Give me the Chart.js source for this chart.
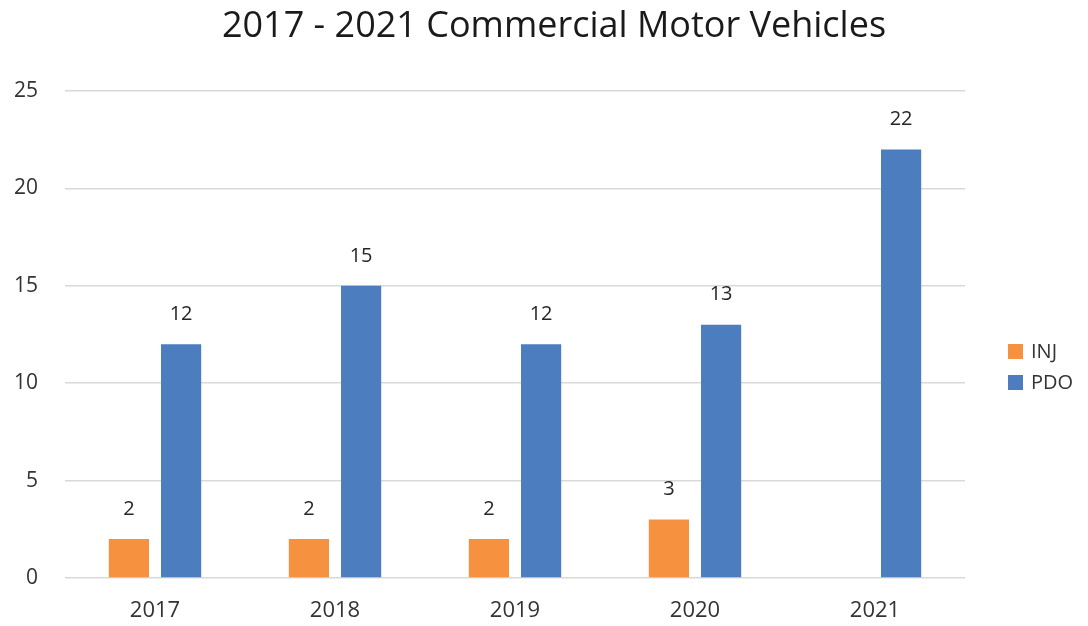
<!DOCTYPE html>
<html>
<head>
<meta charset="utf-8">
<script src="https://cdn.jsdelivr.net/npm/chart.js@4"></script>
<style>
  html, body { margin: 0; padding: 0; background: #fff; }
  #wrap { width: 1088px; height: 626px; }
</style>
</head>
<body>
<div id="wrap"><canvas id="myChart" width="1088" height="626"></canvas></div>
<script>
var years = ["2017", "2018", "2019", "2020", "2021"];
var injData = [2, 2, 2, 3, null];
var pdoData = [12, 15, 12, 13, 22];
var yTicks = [0, 5, 10, 15, 20, 25];
var chartTitle = '2017 - 2021 Commercial Motor Vehicles';

var fontName = "'Open Sans', 'Noto Sans', sans-serif";

// numbers above each bar
var barLabels = {
    id: 'barLabels',
    afterDatasetsDraw: function(chart){
        var ctx = chart.ctx;
        ctx.save();
        ctx.font = '20px ' + fontName;
        ctx.fillStyle = '#262626';
        ctx.textAlign = 'center';
        ctx.textBaseline = 'middle';
        chart.data.datasets.forEach(function(ds, i){
            var meta = chart.getDatasetMeta(i);
            meta.data.forEach(function(bar, j){
                if (ds.data[j] == null) return;
                ctx.fillText(ds.data[j], bar.x, bar.y - 30);
            });
        });
        ctx.restore();
    }
};

// title + legend drawn by hand (title is centred on the whole canvas)
var sideLegend = {
    id: 'sideLegend',
    afterDraw: function(chart){
        var ctx = chart.ctx;
        ctx.save();
        ctx.textBaseline = 'middle';
        ctx.textAlign = 'center';
        ctx.font = '36px ' + fontName;
        ctx.fillStyle = '#1a1a1a';
        ctx.fillText(chartTitle, 554, 27);

        ctx.textAlign = 'left';
        ctx.font = '20px ' + fontName;
        chart.data.datasets.forEach(function(ds, i){
            var y = 352 + i * 31;
            ctx.fillStyle = ds.backgroundColor;
            ctx.fillRect(1008, y - 8, 15, 15);
            ctx.fillStyle = '#333333';
            ctx.fillText(ds.label, 1031, y);
        });
        ctx.restore();
    }
};

var ctx = document.getElementById('myChart').getContext('2d');
var chart = new Chart(ctx, {
    type: 'bar',
    data: {
        labels: years,
        datasets: [{
            label: 'INJ',
            backgroundColor: '#F6913F',
            data: injData
        },{
            label: 'PDO',
            backgroundColor: '#4B7DBF',
            data: pdoData
        }]
    },
    options: {
        responsive: false,
        animation: false,
        layout: { padding: { left: 0, right: 123, top: 91, bottom: 0 } },
        datasets: { bar: { categoryPercentage: 0.58, barPercentage: 0.77 } },
        plugins: {
            legend: { display: false },
            tooltip: { enabled: false },
            title: { display: false }
        },
        scales: {
            x: {
                afterFit: function(axis){ axis.height = 48; },
                grid: { display: false, drawTicks: false },
                border: { display: false },
                ticks: { color: '#333333', font: { family: fontName, size: 22 }, padding: 20 }
            },
            y: {
                min: 0,
                max: 25,
                afterFit: function(axis){ axis.width = 65; },
                afterBuildTicks: function(axis){
                    axis.ticks = yTicks.map(function(v){ return { value: v }; });
                },
                grid: { color: '#d9d9d9', lineWidth: 1.5, drawTicks: false },
                border: { display: false },
                ticks: { color: '#333333', font: { family: fontName, size: 21 }, padding: 27 }
            }
        }
    },
    plugins: [barLabels, sideLegend]
});
</script>
</body>
</html>
